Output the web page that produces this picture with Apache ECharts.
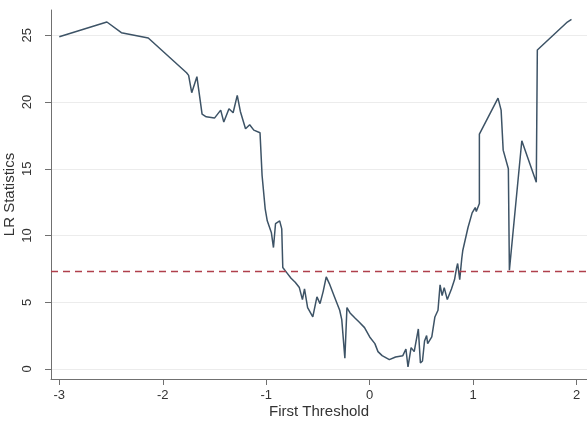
<!DOCTYPE html>
<html>
<head>
<meta charset="utf-8">
<script src="https://cdn.jsdelivr.net/npm/echarts@6/dist/echarts.min.js"></script>
<style>
  html, body { margin: 0; padding: 0; background: #ffffff; }
  #chart { width: 587px; height: 422px; }
</style>
</head>
<body>
<div id="chart"></div>
<script>
// ---- data ----
const thresholds = [
  -3.00, -2.54, -2.40, -2.14, -1.77, -1.75, -1.72, -1.67, -1.62, -1.58,
  -1.50, -1.44, -1.41, -1.36, -1.32, -1.28, -1.25, -1.20, -1.16, -1.12,
  -1.06, -1.04, -1.01, -0.99, -0.95, -0.93, -0.91, -0.87, -0.85, -0.84,
  -0.80, -0.76, -0.72, -0.68, -0.65, -0.63, -0.60, -0.55, -0.51, -0.48,
  -0.45, -0.42, -0.39, -0.34, -0.29, -0.27, -0.24, -0.22, -0.19, -0.14,
  -0.10, -0.05, 0.00, 0.05, 0.08, 0.12, 0.19, 0.25, 0.32, 0.35,
  0.37, 0.40, 0.43, 0.47, 0.49, 0.51, 0.53, 0.55, 0.56, 0.60,
  0.63, 0.66, 0.68, 0.70, 0.72, 0.75, 0.79, 0.82, 0.84, 0.85,
  0.87, 0.89, 0.90, 0.95, 0.99, 1.02, 1.03, 1.06, 1.06, 1.24,
  1.27, 1.29, 1.34, 1.35, 1.47, 1.61, 1.62, 1.91, 1.95
];
const lrStats = [
  24.9, 26.0, 25.2, 24.8, 22.2, 22.0, 20.7, 21.9, 19.1, 18.9,
  18.8, 19.4, 18.5, 19.5, 19.2, 20.5, 19.3, 18.0, 18.3, 17.9,
  17.7, 14.5, 12.0, 11.1, 10.2, 9.1, 10.9, 11.1, 10.5, 7.6,
  7.2, 6.8, 6.5, 6.1, 5.2, 6.0, 4.6, 3.9, 5.4, 4.9,
  5.8, 6.9, 6.4, 5.4, 4.4, 3.7, 0.8, 4.6, 4.2, 3.8,
  3.5, 3.1, 2.4, 1.9, 1.3, 1.0, 0.7, 0.9, 1.0, 1.5,
  0.15, 1.6, 1.3, 3.0, 0.45, 0.6, 2.1, 2.5, 1.9, 2.4,
  3.9, 4.4, 6.3, 5.5, 6.1, 5.2, 6.0, 6.7, 7.6, 7.9,
  6.7, 8.3, 8.9, 10.6, 11.7, 12.1, 11.8, 12.4, 17.6, 20.3,
  19.4, 16.4, 15.0, 7.4, 17.1, 14.0, 23.9, 26.0, 26.2
];
const criticalValue = 7.35;
const xTicks = [-3, -2, -1, 0, 1, 2];
const yTicks = [0, 5, 10, 15, 20, 25];

// ---- chart ----
const chart = echarts.init(document.getElementById('chart'), null, { renderer: 'canvas' });
const lineData = thresholds.map((x, i) => [x, lrStats[i]]);
const font = 'Liberation Sans, Arial, sans-serif';

chart.setOption({
  animation: false,
  backgroundColor: '#ffffff',
  grid: { left: 51, right: 0, top: 10, bottom: 43, containLabel: false, outerBoundsMode: 'none' },
  xAxis: {
    type: 'value',
    min: -3.08,
    max: 2.1,
    name: 'First Threshold',
    nameLocation: 'middle',
    nameGap: 25,
    nameMoveOverlap: false,
    nameTextStyle: { fontFamily: font, fontSize: 15, color: '#333' },
    axisLine: { show: true, onZero: false, lineStyle: { color: '#707070', width: 1 } },
    axisTick: { show: true, length: 6, customValues: xTicks, lineStyle: { color: '#707070' } },
    axisLabel: { customValues: xTicks, margin: 10, fontFamily: font, fontSize: 13, color: '#333' },
    splitLine: { show: false }
  },
  yAxis: {
    type: 'value',
    min: -0.75,
    max: 26.9,
    name: 'LR Statistics',
    nameLocation: 'middle',
    nameGap: 34,
    nameMoveOverlap: false,
    nameTextStyle: { fontFamily: font, fontSize: 15, color: '#333' },
    axisLine: { show: true, onZero: false, lineStyle: { color: '#707070', width: 1 } },
    axisTick: { show: true, length: 6, customValues: yTicks, lineStyle: { color: '#707070' } },
    axisLabel: { customValues: yTicks, rotate: 90, margin: 17, fontFamily: font, fontSize: 13, color: '#333' },
    splitLine: { show: true, lineStyle: { color: '#ececec', width: 1 } }
  },
  series: [{
    type: 'line',
    data: lineData,
    showSymbol: false,
    symbol: 'none',
    lineStyle: { color: '#3d5366', width: 1.5 },
    markLine: {
      silent: true,
      symbol: 'none',
      label: { show: false },
      lineStyle: { color: '#b0404c', width: 1.3, type: [7, 5] },
      data: [{ yAxis: criticalValue }]
    }
  }]
});
</script>
</body>
</html>
